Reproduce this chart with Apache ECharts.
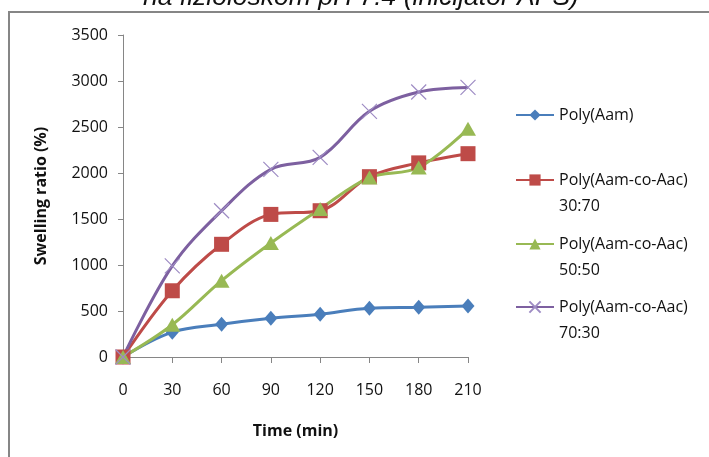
<!DOCTYPE html>
<html>
<head>
<meta charset="utf-8">
<script src="https://cdn.jsdelivr.net/npm/echarts@6/dist/echarts.min.js"></script>
<style>
  html, body { margin: 0; padding: 0; background: #fff; }
  #chart { width: 709px; height: 457px; }
</style>
</head>
<body>
<div id="chart"></div>
<script>
// Swelling ratio (%) of the hydrogels over time (min)
const times = [0, 30, 60, 90, 120, 150, 180, 210];
const xTicks = [0, 30, 60, 90, 120, 150, 180, 210];
const yTicks = [0, 500, 1000, 1500, 2000, 2500, 3000, 3500];

const polyAam      = [0, 270, 355, 420, 465, 530, 540, 555];
const copoly3070   = [0, 720, 1225, 1550, 1590, 1960, 2110, 2210];
const copoly5050   = [0, 350, 830, 1240, 1610, 1950, 2060, 2480];
const copoly7030   = [0, 990, 1590, 2040, 2170, 2670, 2880, 2930];

const seriesNames = [
  'Poly(Aam)',
  'Poly(Aam-co-Aac)\n30:70',
  'Poly(Aam-co-Aac)\n50:50',
  'Poly(Aam-co-Aac)\n70:30'
];

const titleText = 'na fiziološkom pH 7.4 (inicijator APS)';

const pairs = (ys) => times.map((t, i) => [t, ys[i]]);

const labelFont = '"Open Sans", Lato, sans-serif';
const axisGray = '#868686';
const crossPath = 'path://M0,0L10,10M10,0L0,10';

const chart = echarts.init(document.getElementById('chart'), null, { renderer: 'canvas' });

// One legend per entry; two-line entries get a leading blank line so the
// icon sits level with the first line of text.
function legendFor(name, top) {
  const twoLine = name.indexOf('\n') >= 0;
  return {
    orient: 'vertical',
    left: 515,
    top: top,
    data: [name],
    itemWidth: 38,
    itemHeight: 14,
    itemGap: 0,
    padding: 0,
    formatter: (n) => (twoLine ? '\n' + n : n),
    textStyle: {
      fontFamily: labelFont,
      fontSize: 16,
      color: '#111',
      lineHeight: 26
    }
  };
}

const option = {
  animation: false,
  backgroundColor: '#fff',
  graphic: [
    {
      type: 'rect',
      shape: { x: 9, y: 12, width: 800, height: 500 },
      style: { fill: 'none', stroke: axisGray, lineWidth: 2 },
      silent: true
    },
    {
      type: 'text',
      x: 143,
      y: -2,
      style: {
        text: titleText,
        font: 'italic 26.5px "Liberation Sans", Arial, sans-serif',
        fill: '#111',
        verticalAlign: 'middle',
        align: 'left'
      },
      silent: true
    }
  ],
  legend: [
    legendFor(seriesNames[0], 102),
    legendFor(seriesNames[1], 141),
    legendFor(seriesNames[2], 205),
    legendFor(seriesNames[3], 268)
  ],
  grid: { left: 123, right: 241, top: 35, bottom: 100, containLabel: false },
  xAxis: {
    type: 'value',
    min: xTicks[0],
    max: xTicks[xTicks.length - 1],
    interval: 30,
    name: 'Time (min)',
    nameLocation: 'middle',
    nameGap: 66,
    nameTextStyle: { fontFamily: labelFont, fontSize: 16, fontWeight: 'bold', color: '#111' },
    axisLine: { show: true, lineStyle: { color: axisGray, width: 1 } },
    axisTick: { show: true, length: 6, inside: false, lineStyle: { color: axisGray } },
    axisLabel: { margin: 25, fontFamily: labelFont, fontSize: 16, color: '#111' },
    splitLine: { show: false }
  },
  yAxis: {
    type: 'value',
    min: yTicks[0],
    max: yTicks[yTicks.length - 1],
    interval: 500,
    name: 'Swelling ratio (%)',
    nameLocation: 'middle',
    nameGap: 74,
    nameRotate: 90,
    nameTextStyle: { fontFamily: labelFont, fontSize: 16, fontWeight: 'bold', color: '#111' },
    axisLine: { show: true, lineStyle: { color: axisGray, width: 1 } },
    axisTick: { show: true, length: 5, inside: false, lineStyle: { color: axisGray } },
    axisLabel: {
      margin: 15,
      fontFamily: labelFont,
      fontSize: 16,
      color: '#111',
      formatter: (v) => String(v)
    },
    splitLine: { show: false }
  },
  series: [
    {
      name: seriesNames[0],
      type: 'line',
      data: pairs(polyAam),
      smooth: 0.35,
      symbol: 'diamond',
      symbolSize: [13, 15],
      lineStyle: { color: '#4A7EBB', width: 3 },
      itemStyle: { color: '#4A7EBB' }
    },
    {
      name: seriesNames[1],
      type: 'line',
      data: pairs(copoly3070),
      smooth: 0.35,
      symbol: 'rect',
      symbolSize: 15,
      lineStyle: { color: '#BE4B48', width: 3 },
      itemStyle: { color: '#BE4B48' }
    },
    {
      name: seriesNames[2],
      type: 'line',
      data: pairs(copoly5050),
      smooth: 0.35,
      symbol: 'triangle',
      symbolSize: [16, 14],
      lineStyle: { color: '#98B954', width: 3 },
      itemStyle: { color: '#98B954' }
    },
    {
      name: seriesNames[3],
      type: 'line',
      data: pairs(copoly7030),
      smooth: 0.35,
      symbol: crossPath,
      symbolSize: 15,
      lineStyle: { color: '#7D60A0', width: 3 },
      itemStyle: { color: 'none', borderColor: '#9E8CC4', borderWidth: 1.2 }
    }
  ]
};

chart.setOption(option);
</script>
</body>
</html>
